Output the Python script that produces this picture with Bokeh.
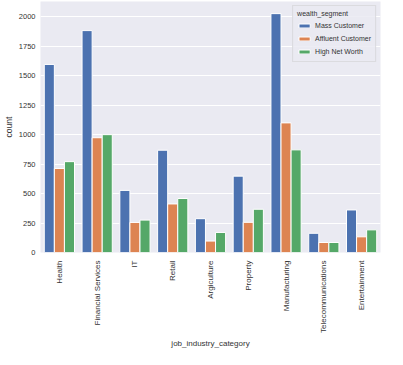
import math
from bokeh.plotting import figure
from bokeh.models import ColumnDataSource, Range1d, FactorRange, Legend, LegendItem, Title
from bokeh.transform import dodge
from bokeh.embed import file_html
from bokeh.resources import INLINE

categories = ["Health", "Financial Services", "IT", "Retail", "Argiculture",
              "Property", "Manufacturing", "Telecommunications", "Entertainment"]
segments = ["Mass Customer", "Affluent Customer", "High Net Worth"]
mass_customer = [1596, 1883, 527, 868, 287, 648, 2027, 163, 361]
affluent_customer = [713, 974, 255, 412, 97, 256, 1100, 85, 133]
high_net_worth = [771, 1000, 275, 458, 170, 367, 871, 85, 192]
colors = ["#4C72B0", "#DD8452", "#55A868"]
y_ticks = [0, 250, 500, 750, 1000, 1250, 1500, 1750, 2000]

src = ColumnDataSource(dict(cat=categories, mass=mass_customer,
                            aff=affluent_customer, hnw=high_net_worth))

FONT = "Liberation Sans"
TXT = "#333333"

p = figure(width=387, height=349, x_range=FactorRange(*categories),
           y_range=Range1d(0, 2130), output_backend="svg", toolbar_location=None,
           min_border_top=1, min_border_right=7, min_border_left=0, min_border_bottom=96)
p.background_fill_color = "#EAEAF2"
p.border_fill_color = "white"
p.outline_line_color = None

bw = 0.8 / 3
renderers = []
for col, off, c in zip(["mass", "aff", "hnw"], [-bw, 0, bw], colors):
    r = p.vbar(x=dodge("cat", off, range=p.x_range), top=col, width=bw, source=src,
               fill_color=c, line_color="white", line_width=1)
    renderers.append(r)

p.xgrid.grid_line_color = None
p.ygrid.grid_line_color = "white"
p.ygrid.grid_line_width = 1
p.yaxis.ticker = y_ticks

for ax in (p.xaxis[0], p.yaxis[0]):
    ax.axis_line_color = None
    ax.major_tick_line_color = None
    ax.minor_tick_line_color = None
    ax.major_tick_out = 0
    ax.major_tick_in = 0
    ax.major_label_text_font = FONT
    ax.major_label_text_color = TXT
    ax.axis_label_text_font = FONT
    ax.axis_label_text_font_size = "8.5px"
    ax.axis_label_text_font_style = "normal"
    ax.axis_label_text_color = TXT

p.xaxis.major_label_text_font_size = "8px"
p.yaxis.major_label_text_font_size = "7.5px"
p.yaxis.axis_label = "count"
p.xaxis.major_label_orientation = math.pi / 2
p.xaxis.major_label_standoff = 8
p.yaxis.major_label_standoff = 5
p.yaxis.axis_label_standoff = 2

# x-axis title, stacked directly under the rotated tick labels
xtitle = Title(text="job_industry_category", align="center", standoff=3,
               text_font=FONT, text_font_size="8px", text_font_style="normal",
               text_color=TXT)
p.add_layout(xtitle, "below")

legend = Legend(items=[LegendItem(label=s, renderers=[r]) for s, r in zip(segments, renderers)],
                location="top_right", title="wealth_segment")
legend.title_text_font = FONT
legend.title_text_font_size = "7px"
legend.title_text_font_style = "normal"
legend.title_text_color = TXT
legend.title_standoff = 3
legend.label_text_font = FONT
legend.label_text_font_size = "7px"
legend.label_text_color = TXT
legend.label_height = 11
legend.label_standoff = 4
legend.glyph_width = 14
legend.glyph_height = 5
legend.spacing = 2
legend.padding = 4
legend.margin = 4
legend.background_fill_color = "#EAEAF2"
legend.background_fill_alpha = 0.85
legend.border_line_color = "#cccccc"
legend.border_line_width = 1
p.add_layout(legend)

open("out.html", "w").write(file_html(p, INLINE))
